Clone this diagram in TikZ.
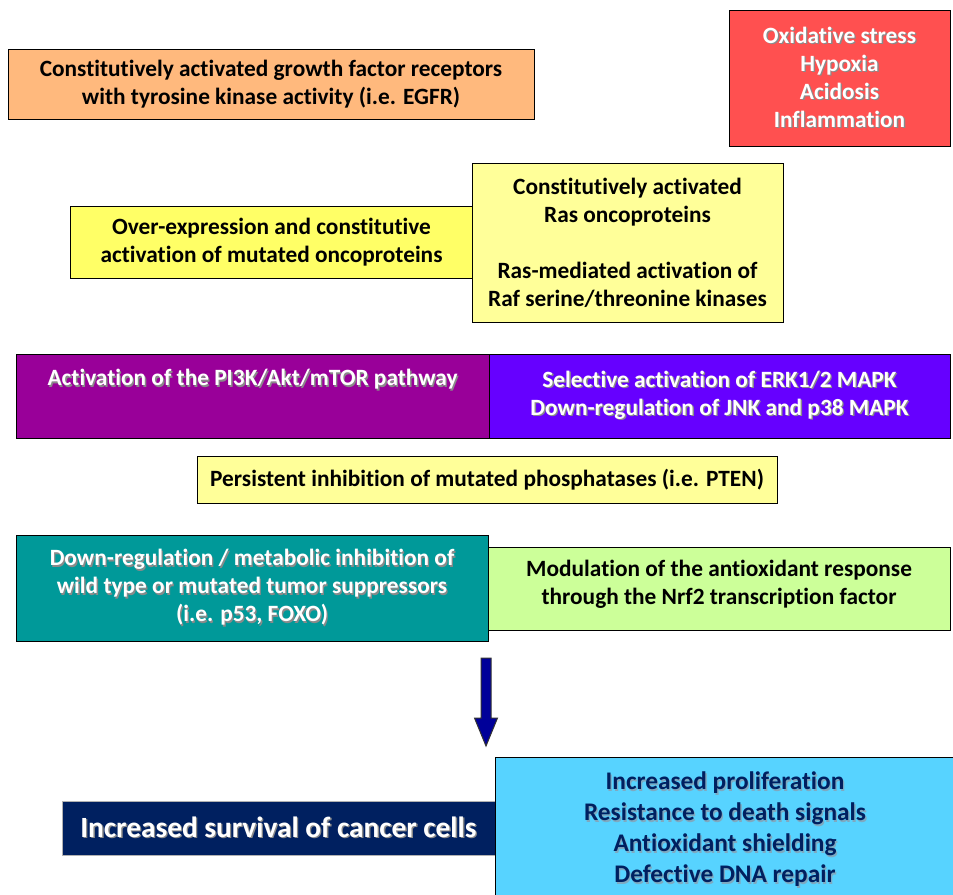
\documentclass[tikz,border=0pt]{standalone}
\usepackage{fontspec}
\setmainfont{Carlito}[Ligatures={NoCommon,NoRare}]
\usetikzlibrary{calc}

\definecolor{boxorange}{HTML}{FFB97D}
\definecolor{boxred}{HTML}{FF5050}
\definecolor{boxyellow}{HTML}{FFFF66}
\definecolor{boxpale}{HTML}{FFFF99}
\definecolor{boxpurple}{HTML}{990099}
\definecolor{boxviolet}{HTML}{6600FF}
\definecolor{boxteal}{HTML}{009999}
\definecolor{boxgreen}{HTML}{CCFF99}
\definecolor{boxnavy}{HTML}{002060}
\definecolor{boxsky}{HTML}{57D3FF}
\definecolor{arrowblue}{HTML}{000099}
\definecolor{shadowgray}{HTML}{8A8A8A}
\definecolor{shadowsky}{HTML}{7FA9C0}

\newcommand{\sh}[2][shadowgray]{\leavevmode\rlap{\hspace{1pt}\raisebox{-1pt}{\color{#1}#2}}#2}

\begin{document}
\begin{tikzpicture}[x=0.75pt,y=-0.75pt,
  box/.style={draw=black,line width=0.75pt,inner sep=0pt,align=center,
    font=\fontsize{17.5}{21}\selectfont\bfseries},
  lightbox/.style={box,text=white}]
\useasboundingbox (0,0) rectangle (953,894);
\node[box,fill=boxorange,minimum width=394.5pt,minimum height=52.5pt] (growth) at (271,84)
  {Constitutively activated growth factor receptors\\with tyrosine kinase activity (i.e. EGFR)};
\node[lightbox,fill=boxred,minimum width=165.75pt,minimum height=102pt] (stress) at (839.5,78)
  {\sh{Oxidative stress}\\\sh{Hypoxia}\\\sh{Acidosis}\\\sh{Inflammation}};
\node[box,fill=boxyellow,minimum width=302.25pt,minimum height=54pt] (overexp) at (271.5,242)
  {Over-expression and constitutive\\activation of mutated oncoproteins};
\node[box,fill=boxpale,minimum width=233.25pt,minimum height=119.25pt] (ras) at (627.5,242.5)
  {Constitutively activated\\Ras oncoproteins\\[21pt]Ras-mediated activation of\\Raf serine/threonine kinases};
\node[lightbox,fill=boxpurple,minimum width=354.75pt,minimum height=63pt] (pi3k) at (252.5,396)
  {\sh{Activation of the PI3K/Akt/mTOR pathway}\\\strut};
\node[lightbox,fill=boxviolet,minimum width=345.75pt,minimum height=63pt] (erk) at (719.5,396)
  {\sh{Selective activation of ERK1/2 MAPK}\\\sh{Down-regulation of JNK and p38 MAPK}};
\node[box,fill=boxpale,minimum width=435pt,minimum height=35.25pt] (pten) at (487,479.5)
  {Persistent inhibition of mutated phosphatases (i.e. PTEN)};
\node[lightbox,fill=boxteal,minimum width=354pt,minimum height=79.5pt] (supp) at (252,588)
  {\sh{Down-regulation / metabolic inhibition of}\\\sh{wild type or mutated tumor suppressors}\\\sh{(i.e. p53, FOXO)}};
\node[box,fill=boxgreen,minimum width=346.5pt,minimum height=62.25pt,text depth=10pt] (nrf2) at (719,588.5)
  {Modulation of the antioxidant response\\through the Nrf2 transcription factor};
\coordinate (arrtop) at (486,658);
\coordinate (arrbot) at (486,746);
\draw[fill=arrowblue,draw=black!80,line width=0.75pt]
  ($(arrtop)+(-5,0)$) -- ($(arrtop)+(5,0)$) -- ($(arrbot)+(5,-28)$) -- ($(arrbot)+(11.5,-28)$)
  -- (arrbot) -- ($(arrbot)+(-11.5,-28)$) -- ($(arrbot)+(-5,-28)$) -- cycle;
\node[lightbox,draw=gray!60,fill=boxnavy,minimum width=324.75pt,minimum height=40.5pt,
  font=\fontsize{22}{24}\selectfont\bfseries] (survival) at (278.5,828)
  {\sh{Increased survival of cancer cells}};
\node[box,fill=boxsky,text=boxnavy,minimum width=345pt,minimum height=109.5pt,
  font=\fontsize{19}{23.25}\selectfont\bfseries] (outcome) at (725,830)
  {\sh[shadowsky]{Increased proliferation}\\\sh[shadowsky]{Resistance to death signals}\\
   \sh[shadowsky]{Antioxidant shielding}\\\sh[shadowsky]{Defective DNA repair}};
\end{tikzpicture}
\end{document}
